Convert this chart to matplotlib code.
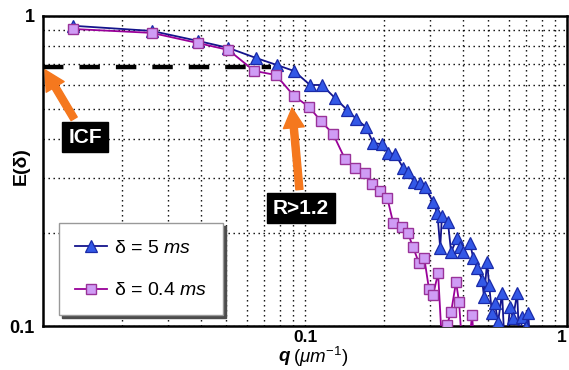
import matplotlib
matplotlib.use("Agg")
import matplotlib.pyplot as plt
import numpy as np

plt.rcParams["font.family"] = ["Liberation Sans", "DejaVu Sans"]
plt.rcParams["mathtext.fontset"] = "custom"
plt.rcParams["mathtext.rm"] = "Liberation Sans"
plt.rcParams["mathtext.it"] = "Liberation Sans:italic"
plt.rcParams["mathtext.bf"] = "Liberation Sans:bold"

# delta = 5 ms (blue triangles)
q_5ms = [0.013, 0.026, 0.039, 0.051, 0.065, 0.078, 0.0907, 0.1045, 0.116, 0.130,
         0.145, 0.157, 0.171, 0.182, 0.197, 0.207, 0.221, 0.237, 0.247, 0.261,
         0.275, 0.287, 0.308, 0.320, 0.328, 0.333, 0.351, 0.361, 0.380, 0.390,
         0.401, 0.4265, 0.438, 0.4536, 0.474, 0.482, 0.4953, 0.504, 0.517, 0.530,
         0.5452, 0.565, 0.58, 0.606, 0.622, 0.645, 0.66, 0.672, 0.698, 0.710, 0.73]
e_5ms = [0.93, 0.895, 0.831, 0.789, 0.732, 0.695, 0.665, 0.599, 0.599, 0.544,
         0.497, 0.465, 0.438, 0.389, 0.386, 0.361, 0.359, 0.323, 0.314, 0.291,
         0.289, 0.281, 0.251, 0.231, 0.1785, 0.226, 0.2166, 0.173, 0.192, 0.180,
         0.173, 0.185, 0.166, 0.154, 0.141, 0.124, 0.161, 0.1356, 0.110, 0.1187,
         0.103, 0.1278, 0.08, 0.115, 0.106, 0.1278, 0.08, 0.107, 0.0993, 0.110, 0.08]

# delta = 0.4 ms (purple squares)
q_04ms = [0.013, 0.026, 0.039, 0.051, 0.064, 0.0775, 0.0907, 0.1036, 0.115, 0.128,
          0.142, 0.155, 0.169, 0.180, 0.193, 0.206, 0.217, 0.235, 0.247, 0.258,
          0.272, 0.285, 0.297, 0.308, 0.322, 0.335, 0.348, 0.361, 0.377, 0.387,
          0.40, 0.418, 0.434, 0.445]
e_04ms = [0.908, 0.882, 0.818, 0.777, 0.665, 0.645, 0.552, 0.509, 0.458, 0.416,
          0.346, 0.323, 0.311, 0.287, 0.273, 0.259, 0.215, 0.209, 0.1995, 0.180,
          0.160, 0.166, 0.132, 0.126, 0.148, 0.08, 0.1007, 0.111, 0.1387, 0.1195,
          0.08, 0.08, 0.1085, 0.08]

icf_level = 0.685
icf_q_end = 0.074

fig = plt.figure(figsize=(5.69, 3.70), dpi=100)
ax = fig.add_axes([0.0756, 0.1189, 0.921, 0.8379])
ax.set_xscale("log")
ax.set_yscale("log")
ax.set_xlim(0.01, 1)
ax.set_ylim(0.1, 1)

grid_style = dict(color="black", linestyle=(0, (1, 2.6)), linewidth=1.0)
ax.set_axisbelow(True)

ax.plot([0.01, icf_q_end], [icf_level, icf_level], color="black", lw=3.2,
        dashes=(4.6, 3.6), zorder=2)

ax.plot(q_5ms, e_5ms, color="#14148c", lw=1.3, marker="^", markersize=8.5,
        markerfacecolor="#3358e6", markeredgecolor="#1a2aa8", markeredgewidth=0.9,
        label=r"δ = 5 $ms$", zorder=3)
ax.plot(q_04ms, e_04ms, color="#990099", lw=1.3, marker="s", markersize=7.5,
        markerfacecolor="#cf9cf5", markeredgecolor="#993399", markeredgewidth=1.0,
        label=r"δ = 0.4 $ms$", zorder=4)

ax.set_xticks([0.1, 1])
ax.set_xticklabels(["0.1", "1"], fontweight="bold", fontsize=12.5)
ax.set_yticks([0.1, 1])
ax.set_yticklabels(["0.1", "1"], fontweight="bold", fontsize=13)
ax.xaxis.set_minor_locator(matplotlib.ticker.LogLocator(base=10, subs=np.arange(2, 10)))
ax.yaxis.set_minor_locator(matplotlib.ticker.LogLocator(base=10, subs=np.arange(2, 10)))
ax.xaxis.set_minor_formatter(matplotlib.ticker.NullFormatter())
ax.yaxis.set_minor_formatter(matplotlib.ticker.NullFormatter())
ax.grid(True, which="both", **grid_style)
ax.tick_params(which="both", length=0, pad=3)
ax.tick_params(axis="y", pad=6)
# keep the right-hand "1" inside the figure
ax.get_xticklabels()[-1].set_horizontalalignment("right")

for spine in ax.spines.values():
    spine.set_linewidth(1.8)
    spine.set_color("black")

arrow_color = "#f5781e"
arrow_style = "simple,head_length=0.95,head_width=1.0,tail_width=0.34"
box_style = dict(boxstyle="square,pad=0.28", fc="black", ec="black")
ax.annotate("ICF", xy=(0.01018, 0.67), xytext=(0.01446, 0.407),
            ha="center", va="center", color="white", fontsize=15, fontweight="bold",
            bbox=box_style,
            arrowprops=dict(arrowstyle=arrow_style, color=arrow_color,
                            mutation_scale=15, shrinkA=2, shrinkB=0))
ax.annotate("R>1.2", xy=(0.0892, 0.505), xytext=(0.0966, 0.240),
            ha="center", va="center", color="white", fontsize=15, fontweight="bold",
            bbox=box_style,
            arrowprops=dict(arrowstyle=arrow_style, color=arrow_color,
                            mutation_scale=15, shrinkA=2, shrinkB=0))

leg = ax.legend(loc="lower left", bbox_to_anchor=(0.0305, 0.0355), fontsize=14,
                frameon=True, fancybox=False, shadow={"color": "0.3", "alpha": 1},
                edgecolor="#999999", borderpad=0.8, labelspacing=1.3,
                handlelength=1.65, handletextpad=0.4, borderaxespad=0)
leg.get_frame().set_linewidth(1.0)

fig.text(0.490, 0.036, "q", fontsize=13.5, fontweight="bold", style="italic",
         ha="left", va="center")
fig.text(0.515, 0.036, r"($\mu m^{-1}$)", fontsize=13.5, ha="left", va="center")
fig.text(0.037, 0.55, "E(δ)", fontsize=14, fontweight="bold", rotation=90,
         ha="center", va="center")

fig.savefig("out.png", dpi=100)
